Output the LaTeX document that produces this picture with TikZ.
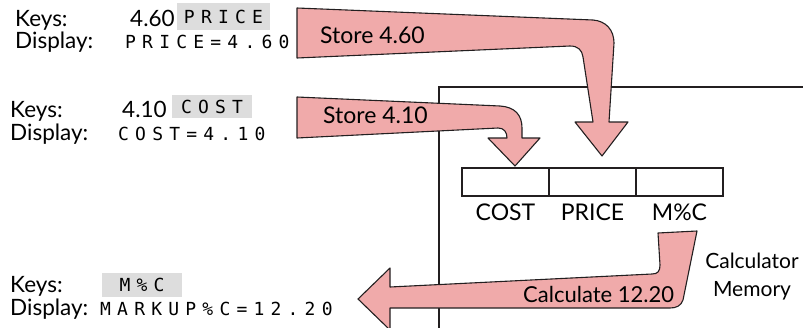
\documentclass[tikz,border=0pt]{standalone}
\usepackage{fontspec}
\setmainfont{Lato}
\newfontfamily\lcdfont[LetterSpace=34.5]{DejaVu Sans Mono}
\usetikzlibrary{positioning}
\definecolor{arrowpink}{HTML}{F0AAAA}
\definecolor{keygrey}{HTML}{DDDDDD}
\definecolor{inkline}{HTML}{231F20}
\tikzset{
  txt/.style    = {inner sep=0pt, anchor=base west, font=\fontsize{23}{27}\selectfont},
  keylab/.style = {txt, font=\fontsize{22.5}{27}\selectfont},
  memlab/.style = {txt, anchor=base, font=\fontsize{21}{25}\selectfont},
  lcd/.style    = {inner sep=0pt, anchor=base west, font=\fontsize{18}{20}\lcdfont},
  keybox/.style = {fill=keygrey, inner sep=0pt, font=\fontsize{18}{20}\lcdfont},
  cell/.style   = {draw=inkline, line width=2pt, outer sep=0pt,
                   minimum width=87pt, minimum height=28pt},
  reglabel/.style = {inner sep=0pt, anchor=north, font=\fontsize{23}{27}\selectfont},
  bigarrow/.style = {fill=arrowpink, draw=inkline, line width=1.1pt, line join=round},
  memline/.style  = {draw=inkline, line width=2pt},
}

\begin{document}
\begin{tikzpicture}[x=1pt, y=-1pt]

    \clip (0,0) rectangle (803,327);

    %% Keys and displays
    \node[keylab] (keysA) at (15,26) {Keys:};
    \node[keylab] (numA)  at (130,26) {4.60};
    \node[keybox, minimum width=93pt, minimum height=27pt] (keyA) at (223.5,16.5) {PRICE};
    \node[keylab] (dispA) at (15,48) {Display:};
    \node[lcd] (lcdA)  at (125,48) {PRICE=4.60};

    \node[keylab] (keysB) at (10,117) {Keys:};
    \node[keylab] (numB)  at (122,117) {4.10};
    \node[keybox, minimum width=80pt, minimum height=23pt] (keyB) at (212,106.5) {COST};
    \node[keylab] (dispB) at (10,140) {Display:};
    \node[lcd] (lcdB)  at (118,140) {COST=4.10};

    \node[keylab] (keysC) at (10,292) {Keys:};
    \node[keybox, minimum width=80pt, minimum height=24pt] (keyC) at (142,285) {M\%C};
    \node[keylab] (dispC) at (10,315) {Display:};
    \node[lcd] (lcdC)  at (100,315) {MARKUP\%C=12.20};

    %% Calculator memory
    \draw[memline] (439,335) |- (810,87);
    \node[cell] (costcell) at (505.5,182) {};
    \node[cell, right=0pt of costcell] (pricecell) {};
    \node[cell, right=0pt of pricecell] (mccell) {};
    \node[reglabel, below=8pt of costcell]  (costlab)  {COST};
    \node[reglabel, below=8pt of pricecell] (pricelab) {PRICE};
    \node[reglabel, below=8pt of mccell]    (mclab)    {M\%C};
    \node[memlab] (memA) at (752,268) {Calculator};
    \node[memlab] (memB) at (752,296) {Memory};

    %% Block arrows
    \draw[bigarrow] (297,8) -- (593,20) .. controls (606,21) and (614,30) .. (614,43)
      -- (609,122) -- (628,122) -- (602,156) -- (575,122) -- (593,122)
      -- (583,57) .. controls (582,50) and (578,46) .. (570,46) -- (297,58) -- cycle;
    \draw[bigarrow] (297,97) -- (500,106) .. controls (515,107) and (522,115) .. (522,128)
      -- (522,138) -- (540,138) -- (515,166) -- (488,138) -- (507,138)
      .. controls (507,132) and (504,128) .. (498,128) -- (297,138) -- cycle;
    \draw[bigarrow] (697,231) -- (683,300) .. controls (681,306) and (676,308) .. (670,308)
      -- (390,308) -- (390,330) -- (358,299) -- (390,268) -- (390,287)
      -- (652,274) .. controls (658,274) and (660,271) .. (660,265) -- (658,233) -- cycle;

    \node[txt] (store60) at (320,43)  {Store 4.60};
    \node[txt] (store10) at (323,123) {Store 4.10};
    \node[txt, font=\fontsize{22}{26}\selectfont] (calc) at (523,302) {Calculate 12.20};

  \end{tikzpicture}
\end{document}
